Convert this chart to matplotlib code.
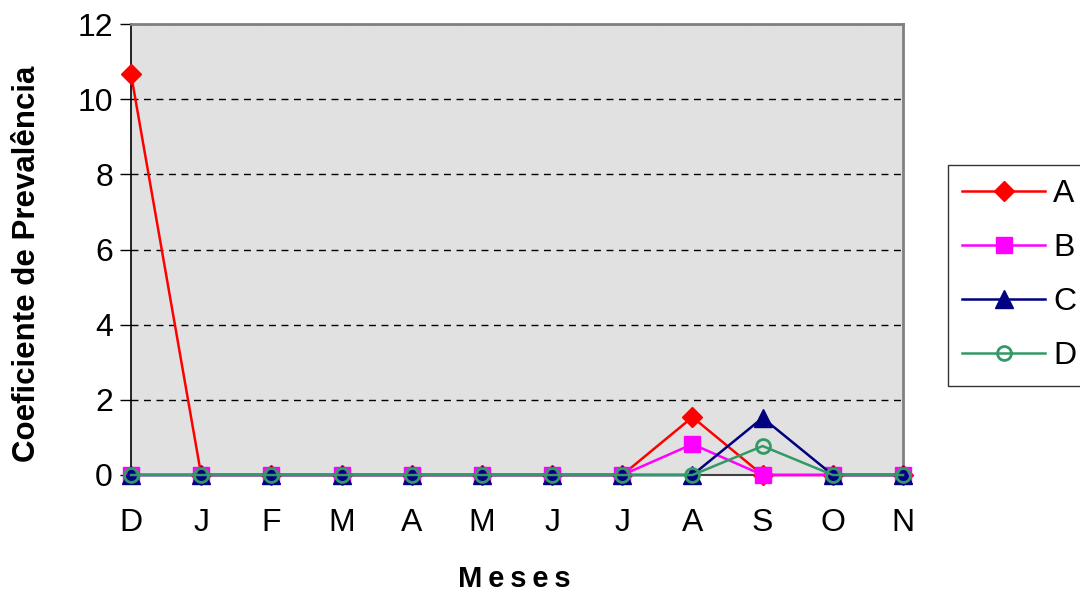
import matplotlib
matplotlib.use("Agg")
import matplotlib.pyplot as plt
from matplotlib.ticker import MultipleLocator

plt.rcParams['font.family'] = ['Liberation Sans', 'DejaVu Sans']

months = ["D", "J", "F", "M", "A", "M", "J", "J", "A", "S", "O", "N"]
series_a = [10.67, 0, 0, 0, 0, 0, 0, 0, 1.54, 0, 0, 0]
series_b = [0, 0, 0, 0, 0, 0, 0, 0, 0.82, 0, 0, 0]
series_c = [0, 0, 0, 0, 0, 0, 0, 0, 0, 1.52, 0, 0]
series_d = [0, 0, 0, 0, 0, 0, 0, 0, 0, 0.77, 0, 0]

fig = plt.figure(figsize=(10.8, 5.95), dpi=100)
ax = fig.add_axes([131 / 1080, 120 / 595, 772 / 1080, 451 / 595])
ax.set_facecolor('#e1e1e1')

x = list(range(len(months)))
ax.plot(x, series_a, color='#ff0000', lw=1.8, marker='D', ms=10,
        mfc='#ff0000', mec='#ff0000', label='A', clip_on=False, zorder=3)
ax.plot(x, series_b, color='#ff00ff', lw=1.8, marker='s', ms=11,
        mfc='#ff00ff', mec='#ff00ff', label='B', clip_on=False, zorder=4)
ax.plot(x, series_c, color='#000080', lw=1.8, marker='^', ms=13,
        mfc='#000080', mec='#000080', label='C', clip_on=False, zorder=5)
ax.plot(x, series_d, color='#339966', lw=1.8, marker='o', ms=10,
        mfc='none', mec='#339966', mew=2, label='D', clip_on=False, zorder=6)

ax.set_xlim(0, len(months) - 1)
ax.set_ylim(0, 12)
ax.yaxis.set_major_locator(MultipleLocator(2))
ax.set_xticks(x)
ax.set_xticklabels(months)
ax.tick_params(axis='x', length=0, pad=24, labelsize=23)
ax.tick_params(axis='y', length=8, width=1, direction='out', pad=5, labelsize=23)

ax.yaxis.grid(True, linestyle=(0, (5, 4)), color='black', lw=1)
ax.set_axisbelow(True)

for side in ('top', 'right'):
    ax.spines[side].set_color('#808080')
    ax.spines[side].set_linewidth(2)
ax.spines['left'].set_color('black')
ax.spines['left'].set_linewidth(1.2)
ax.spines['bottom'].set_color('#404040')
ax.spines['bottom'].set_linewidth(1.5)

ax.set_ylabel('Coeficiente de Prevalência', fontsize=22.5, fontweight='bold',
              va='center', ha='center')
ax.yaxis.set_label_coords(-(131 - 27) / 772, (475 - 264) / 451)
ax.set_xlabel('\u2009'.join('Meses'), fontsize=21, fontweight='bold',
              va='center', ha='center')
ax.xaxis.set_label_coords((514 - 131) / 772, -(579 - 475) / 451)

leg = fig.legend(loc='upper left', bbox_to_anchor=(948 / 1080, 1 - 165 / 595),
                 fontsize=23, frameon=True, fancybox=False, edgecolor='black',
                 handlelength=2.6, handletextpad=0.25, labelspacing=0.75,
                 borderpad=0.45, borderaxespad=0)
leg.get_frame().set_linewidth(1)

fig.savefig('out.png', dpi=100)
